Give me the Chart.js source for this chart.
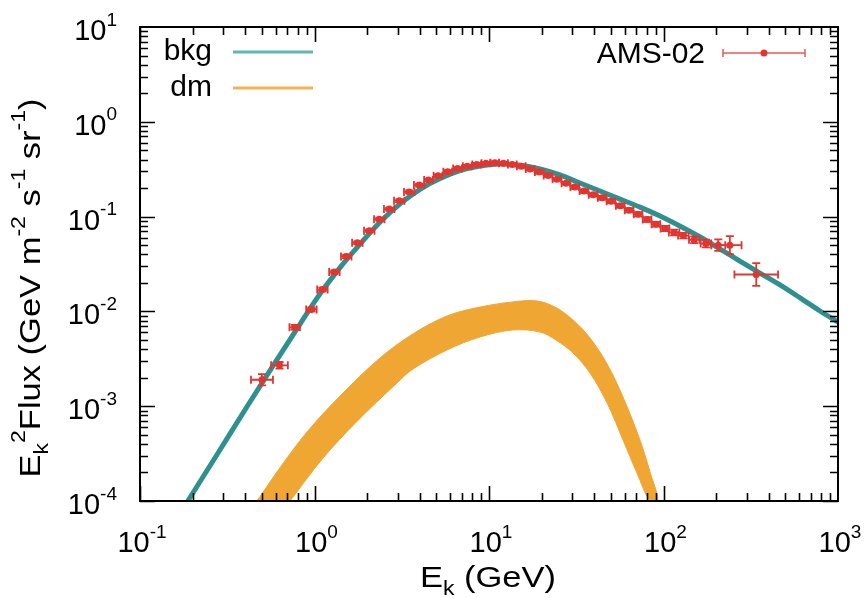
<!DOCTYPE html>
<html>
<head>
<meta charset="utf-8">
<script src="https://cdn.jsdelivr.net/npm/chart.js@4.4.1/dist/chart.umd.min.js"></script>
<style>
  html, body { margin: 0; padding: 0; background: #fff; }
  #wrap { width: 865px; height: 598px; position: relative; }
</style>
</head>
<body>
<div id="wrap"><canvas id="chart"></canvas></div>
<script>
// AMS-02 positron points (GeV, GeV m^-2 s^-1 sr^-1)
const amsEnergy = [0.50, 0.63, 0.77, 0.96, 1.11, 1.30, 1.52, 1.76, 2.06, 2.35, 2.68, 3.06, 3.49, 3.98,
    4.5, 5.1, 5.8, 6.6, 7.5, 8.5, 9.6, 10.8, 12.1, 13.6, 15.3, 17.2, 19.4, 21.8, 24.5, 27.6,
    31, 35, 39.5, 44.5, 50, 56.5, 63.5, 71.5, 80.5, 90.5, 102, 115, 130, 150, 175, 206, 240, 340];
const amsFlux = [0.0019, 0.0027, 0.0068, 0.0105, 0.017, 0.026, 0.038, 0.053, 0.071, 0.094, 0.12, 0.147, 0.182, 0.215,
    0.243, 0.27, 0.298, 0.322, 0.34, 0.355, 0.365, 0.37, 0.365, 0.355, 0.34, 0.318, 0.295, 0.272, 0.248, 0.225,
    0.205, 0.186, 0.17, 0.158, 0.145, 0.13, 0.117, 0.106, 0.093, 0.083, 0.075, 0.068, 0.063, 0.057, 0.052, 0.05, 0.05, 0.0245];
// half bin width and flux error, in decades
const amsBinDex = [0.063, 0.048, 0.03, 0.03, 0.03, 0.03, 0.03, 0.03, 0.03, 0.03, 0.03, 0.03, 0.03, 0.03,
    0.025, 0.025, 0.025, 0.025, 0.025, 0.025, 0.025, 0.025, 0.025, 0.025, 0.025, 0.025, 0.025, 0.025, 0.025, 0.025,
    0.025, 0.025, 0.025, 0.025, 0.025, 0.025, 0.025, 0.025, 0.025, 0.025, 0.025, 0.03, 0.03, 0.03, 0.03, 0.04, 0.067, 0.125];
const amsErrDex = [0.06, 0.035, 0.025, 0.02, 0.02, 0.018, 0.018, 0.015, 0.015, 0.015, 0.015, 0.015, 0.015, 0.015,
    0.015, 0.015, 0.015, 0.015, 0.015, 0.015, 0.015, 0.015, 0.015, 0.015, 0.015, 0.015, 0.015, 0.015, 0.015, 0.015,
    0.018, 0.018, 0.018, 0.02, 0.02, 0.02, 0.022, 0.022, 0.025, 0.025, 0.028, 0.03, 0.03, 0.035, 0.04, 0.06, 0.095, 0.12];

// background model
const bkgEnergy = [0.188, 0.280, 0.416, 0.618, 0.826, 1.075, 1.40, 1.82, 2.37, 3.09, 4.02, 5.24, 6.82, 8.88, 11.6, 15.1,
    19.6, 25.5, 33.2, 43.3, 56.3, 73.3, 95.5, 124, 162, 211, 274, 357, 465, 606, 789, 1000];
const bkgFlux = [1.0e-4, 3.21e-4, 1.03e-3, 3.22e-3, 7.36e-3, 0.0153, 0.0290, 0.0510, 0.0870, 0.136, 0.194, 0.252, 0.305, 0.342, 0.358, 0.348,
    0.318, 0.275, 0.226, 0.186, 0.153, 0.126, 0.1015, 0.0796, 0.0609, 0.0455, 0.0340, 0.0254, 0.0190, 0.0139, 0.0101, 0.0077];

// dark matter band edges
const dmUpperEnergy = [0.468, 0.651, 0.906, 1.40, 2.37, 3.66, 5.74, 8.87, 13.7, 18.8, 23.9, 30.3, 37.9, 47.5, 58.6, 73.3, 83.7, 93.0];
const dmUpperFlux = [1.0e-4, 2.40e-4, 5.35e-4, 1.28e-3, 3.22e-3, 5.78e-3, 8.94e-3, 1.11e-2, 1.26e-2, 1.29e-2, 1.11e-2, 8.11e-3, 5.24e-3, 2.79e-3, 1.25e-3, 4.4e-4, 2.02e-4, 1.0e-4];
const dmLowerEnergy = [0.724, 1.12, 1.75, 2.97, 3.67, 5.74, 8.88, 13.7, 19.6, 24.2, 30.3, 37.9, 47.5, 58.6, 70.5, 83.7];
const dmLowerFlux = [1.0e-4, 2.84e-4, 6.9e-4, 1.76e-3, 2.47e-3, 3.92e-3, 5.37e-3, 6.37e-3, 6.06e-3, 4.99e-3, 3.64e-3, 2.24e-3, 1.08e-3, 4.4e-4, 1.97e-4, 1.0e-4];

// axis ticks
const xTickValues = [0.1, 1, 10, 100, 1000];
const xTickExps = ['-1', '0', '1', '2', '3'];
const yTickValues = [1e-4, 1e-3, 1e-2, 1e-1, 1, 10];
const yTickExps = ['-4', '-3', '-2', '-1', '0', '1'];

const RED = 'rgb(228, 52, 48)';
const TEAL = 'rgb(46, 145, 143)';
const ORANGE = 'rgb(240, 166, 50)';
const FONT = '"Liberation Sans", Arial, Helvetica, sans-serif';

function toPoints(xs, ys) {
    return xs.map((v, i) => ({ x: v, y: ys[i] }));
}

// draw text with sub/superscript parts: [text, '' | 'sup' | 'sub'], stretched along the text
function drawRich(ctx, parts, x, y, size, align, stretch) {
    stretch = stretch || 1;
    const small = Math.round(size * 0.66);
    let w = 0;
    parts.forEach(p => {
        ctx.font = (p[1] ? small : size) + 'px ' + FONT;
        w += ctx.measureText(p[0]).width;
    });
    let cx = align === 'center' ? -w / 2 : (align === 'right' ? -w : 0);
    ctx.save();
    ctx.translate(x, y);
    ctx.scale(stretch, 1);
    ctx.textAlign = 'left';
    ctx.textBaseline = 'alphabetic';
    parts.forEach(p => {
        ctx.font = (p[1] ? small : size) + 'px ' + FONT;
        let dy = 0;
        if (p[1] === 'sup') dy = -size * 0.5;
        if (p[1] === 'sub') dy = size * 0.28;
        ctx.fillText(p[0], cx, dy);
        cx += ctx.measureText(p[0]).width;
    });
    ctx.restore();
}

const errorBars = {
    id: 'errorBars',
    beforeDatasetDraw(chart, args) {
        if (args.index !== 0) return;
        const { ctx, chartArea, scales: { x, y } } = chart;
        ctx.save();
        ctx.beginPath();
        ctx.rect(chartArea.left, chartArea.top, chartArea.width, chartArea.height);
        ctx.clip();
        ctx.strokeStyle = RED;
        ctx.lineWidth = 1.8;
        const cap = 4;
        amsEnergy.forEach((e, i) => {
            const f = amsFlux[i];
            const px = x.getPixelForValue(e);
            const py = y.getPixelForValue(f);
            const x0 = x.getPixelForValue(e / Math.pow(10, amsBinDex[i]));
            const x1 = x.getPixelForValue(e * Math.pow(10, amsBinDex[i]));
            const y0 = y.getPixelForValue(f / Math.pow(10, amsErrDex[i]));
            const y1 = y.getPixelForValue(f * Math.pow(10, amsErrDex[i]));
            ctx.beginPath();
            ctx.moveTo(x0, py); ctx.lineTo(x1, py);
            ctx.moveTo(x0, py - cap); ctx.lineTo(x0, py + cap);
            ctx.moveTo(x1, py - cap); ctx.lineTo(x1, py + cap);
            ctx.moveTo(px, y0); ctx.lineTo(px, y1);
            ctx.moveTo(px - cap, y0); ctx.lineTo(px + cap, y0);
            ctx.moveTo(px - cap, y1); ctx.lineTo(px + cap, y1);
            ctx.stroke();
        });
        ctx.restore();
    }
};

const frameAndText = {
    id: 'frameAndText',
    afterDraw(chart) {
        const { ctx, chartArea: a, scales: { x, y } } = chart;
        ctx.save();
        ctx.strokeStyle = '#000';
        ctx.fillStyle = '#000';

        // tick marks, inside on all four sides
        ctx.lineWidth = 1.6;
        ctx.beginPath();
        for (let d = -1; d < 3; d++) {
            for (let m = 1; m <= 9; m++) {
                const px = Math.round(x.getPixelForValue(m * Math.pow(10, d))) + 0.5;
                const len = m === 1 ? 15 : 8;
                ctx.moveTo(px, a.bottom); ctx.lineTo(px, a.bottom - len);
                ctx.moveTo(px, a.top); ctx.lineTo(px, a.top + len);
            }
        }
        for (let d = -4; d < 1; d++) {
            for (let m = 1; m <= 9; m++) {
                const py = Math.round(y.getPixelForValue(m * Math.pow(10, d))) + 0.5;
                const len = m === 1 ? 15 : 8;
                ctx.moveTo(a.left, py); ctx.lineTo(a.left + len, py);
                ctx.moveTo(a.right, py); ctx.lineTo(a.right - len, py);
            }
        }
        ctx.stroke();

        // frame
        ctx.lineWidth = 2;
        ctx.strokeRect(a.left, a.top, a.right - a.left, a.bottom - a.top);

        // tick labels
        xTickValues.forEach((v, i) => {
            drawRich(ctx, [['10', ''], [xTickExps[i], 'sup']], x.getPixelForValue(v) + 2, a.bottom + 51, 29, 'center');
        });
        yTickValues.forEach((v, i) => {
            drawRich(ctx, [['10', ''], [yTickExps[i], 'sup']], a.left - 23, y.getPixelForValue(v) + 13, 29, 'right');
        });

        // axis titles
        drawRich(ctx, [['E', ''], ['k', 'sub'], [' (GeV)', '']], 488, 587, 30, 'center', 1.15);
        ctx.save();
        ctx.translate(40, 288);
        ctx.rotate(-Math.PI / 2);
        drawRich(ctx, [['E', ''], ['k', 'sub'], ['2', 'sup'], ['Flux (GeV m', ''], ['-2', 'sup'], [' s', ''],
            ['-1', 'sup'], [' sr', ''], ['-1', 'sup'], [')', '']], 0, 0, 30, 'center', 1.15);
        ctx.restore();

        // legend
        ctx.font = '30px ' + FONT;
        ctx.textAlign = 'right';
        ctx.textBaseline = 'middle';
        ctx.fillText('bkg', 212, 52);
        ctx.fillText('dm', 212, 88);
        ctx.fillText('AMS-02', 705, 55);
        ctx.lineWidth = 3;
        ctx.strokeStyle = 'rgb(100, 180, 176)';
        ctx.beginPath(); ctx.moveTo(233, 52); ctx.lineTo(313, 52); ctx.stroke();
        ctx.strokeStyle = 'rgb(245, 178, 80)';
        ctx.beginPath(); ctx.moveTo(233, 88); ctx.lineTo(313, 88); ctx.stroke();
        ctx.strokeStyle = 'rgb(236, 90, 90)';
        ctx.lineWidth = 1.5;
        ctx.beginPath();
        ctx.moveTo(723, 53); ctx.lineTo(805, 53);
        ctx.moveTo(723, 49); ctx.lineTo(723, 57);
        ctx.moveTo(805, 49); ctx.lineTo(805, 57);
        ctx.stroke();
        ctx.fillStyle = RED;
        ctx.beginPath(); ctx.arc(764, 53, 3.5, 0, Math.PI * 2); ctx.fill();
        ctx.restore();
    }
};

// dm band outline: upper edge left to right, then lower edge back
const dmShape = toPoints(dmUpperEnergy, dmUpperFlux)
    .concat(toPoints(dmLowerEnergy, dmLowerFlux).reverse());

new Chart(document.getElementById('chart'), {
    type: 'scatter',
    data: {
        datasets: [
            {
                label: 'AMS-02',
                data: toPoints(amsEnergy, amsFlux),
                showLine: false,
                pointRadius: 3.5,
                pointBackgroundColor: RED,
                pointBorderWidth: 0
            },
            {
                label: 'bkg',
                data: toPoints(bkgEnergy, bkgFlux),
                showLine: true,
                borderColor: TEAL,
                borderWidth: 5,
                pointRadius: 0,
                cubicInterpolationMode: 'monotone',
                clip: 0
            },
            {
                label: 'dm',
                data: dmShape,
                showLine: true,
                borderColor: ORANGE,
                backgroundColor: ORANGE,
                borderWidth: 1,
                pointRadius: 0,
                tension: 0.35,
                fill: 'shape',
                clip: 0
            }
        ]
    },
    options: {
        responsive: true,
        maintainAspectRatio: false,
        animation: false,
        layout: { padding: { left: 140, right: 27, top: 27, bottom: 97 } },
        plugins: {
            legend: { display: false },
            tooltip: { enabled: false }
        },
        scales: {
            x: {
                type: 'logarithmic',
                min: 0.1,
                max: 1000,
                grid: { display: false },
                border: { display: false },
                ticks: { display: false },
                afterFit(s) { s.height = 0; }
            },
            y: {
                type: 'logarithmic',
                min: 1e-4,
                max: 10,
                grid: { display: false },
                border: { display: false },
                ticks: { display: false },
                afterFit(s) { s.width = 0; }
            }
        }
    },
    plugins: [errorBars, frameAndText]
});
</script>
</body>
</html>
